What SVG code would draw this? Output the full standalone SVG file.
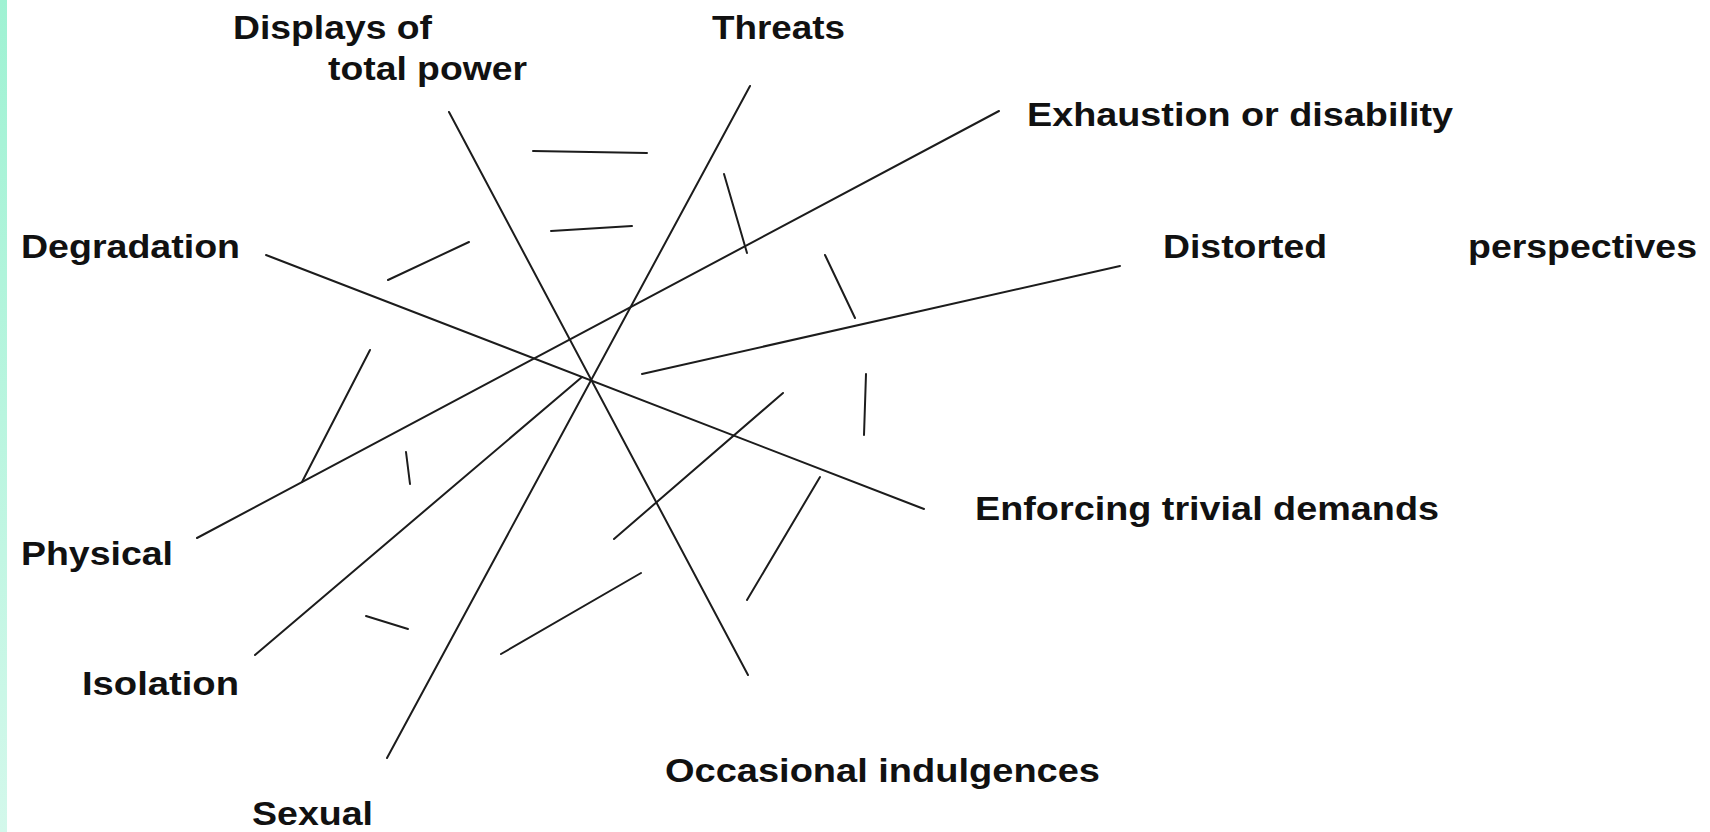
<svg xmlns="http://www.w3.org/2000/svg" width="1710" height="832" viewBox="0 0 1710 832">
<style>
.lbl{font-family:"Liberation Sans",Arial,sans-serif;font-weight:bold;font-size:33px;fill:#111}
.ln{stroke:#1c1c1c;stroke-width:2;stroke-linecap:round;fill:none}
</style>
<defs>
<linearGradient id="strip" x1="0" y1="0" x2="0" y2="1">
<stop offset="0" stop-color="#9ff2d3"/>
<stop offset="1" stop-color="#d3f8eb"/>
</linearGradient>
</defs>
<rect x="0" y="0" width="1710" height="832" fill="#ffffff"/>
<rect x="0" y="0" width="7" height="832" fill="url(#strip)"/>
<g id="connectors">
<line class="ln" x1="449" y1="112" x2="748" y2="675"/>
<line class="ln" x1="750" y1="86" x2="387" y2="758"/>
<line class="ln" x1="266" y1="255" x2="924" y2="509"/>
<line class="ln" x1="999" y1="111" x2="197" y2="538"/>
<line class="ln" x1="1120" y1="266" x2="642" y2="374"/>
<line class="ln" x1="582" y1="377" x2="255" y2="655"/>
<line class="ln" x1="783" y1="393" x2="614" y2="539"/>
<line class="ln" x1="533" y1="151" x2="647" y2="153"/>
<line class="ln" x1="551" y1="231" x2="632" y2="226"/>
<line class="ln" x1="388" y1="280" x2="469" y2="242"/>
<line class="ln" x1="724" y1="174" x2="747" y2="253"/>
<line class="ln" x1="825" y1="255" x2="855" y2="318"/>
<line class="ln" x1="866" y1="374" x2="864" y2="435"/>
<line class="ln" x1="370" y1="350" x2="302" y2="482"/>
<line class="ln" x1="406" y1="452" x2="410" y2="484"/>
<line class="ln" x1="366" y1="616" x2="408" y2="629"/>
<line class="ln" x1="501" y1="654" x2="641" y2="573"/>
<line class="ln" x1="747" y1="600" x2="820" y2="477"/>
</g>
<g id="node-displays"><text class="lbl" x="233" y="39" textLength="199" lengthAdjust="spacingAndGlyphs">Displays of</text><text class="lbl" x="328" y="80" textLength="199" lengthAdjust="spacingAndGlyphs">total power</text></g>
<g id="node-threats"><text class="lbl" x="712" y="39" textLength="133" lengthAdjust="spacingAndGlyphs">Threats</text></g>
<g id="node-exhaustion"><text class="lbl" x="1027" y="126" textLength="426" lengthAdjust="spacingAndGlyphs">Exhaustion or disability</text></g>
<g id="node-degradation"><text class="lbl" x="21" y="258" textLength="219" lengthAdjust="spacingAndGlyphs">Degradation</text></g>
<g id="node-distorted"><text class="lbl" x="1163" y="258" textLength="164" lengthAdjust="spacingAndGlyphs">Distorted</text><text class="lbl" x="1468" y="258" textLength="229" lengthAdjust="spacingAndGlyphs">perspectives</text></g>
<g id="node-enforcing"><text class="lbl" x="975" y="520" textLength="464" lengthAdjust="spacingAndGlyphs">Enforcing trivial demands</text></g>
<g id="node-physical"><text class="lbl" x="21" y="565" textLength="152" lengthAdjust="spacingAndGlyphs">Physical</text></g>
<g id="node-isolation"><text class="lbl" x="82" y="695" textLength="157" lengthAdjust="spacingAndGlyphs">Isolation</text></g>
<g id="node-occasional"><text class="lbl" x="665" y="782" textLength="435" lengthAdjust="spacingAndGlyphs">Occasional indulgences</text></g>
<g id="node-sexual"><text class="lbl" x="252" y="825" textLength="121" lengthAdjust="spacingAndGlyphs">Sexual</text></g>
</svg>
